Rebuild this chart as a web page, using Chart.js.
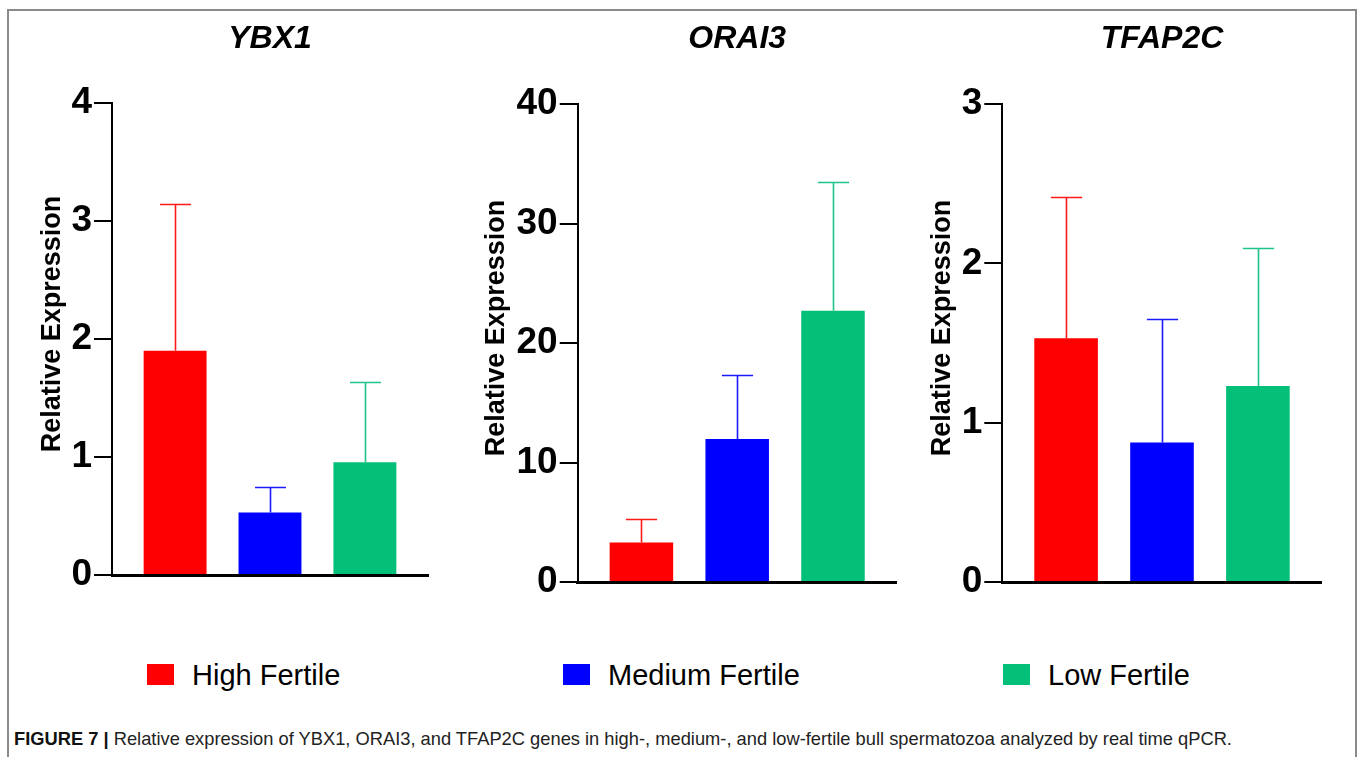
<!DOCTYPE html>
<html>
<head>
<meta charset="utf-8">
<script src="https://cdn.jsdelivr.net/npm/chart.js@4"></script>
<style>
html,body{margin:0;padding:0;background:#fff;width:1358px;height:757px;overflow:hidden;font-family:"Liberation Sans",Arial,Helvetica,sans-serif;}
#frame{position:absolute;left:7px;top:9px;width:1350px;height:800px;border:2px solid #8a8a8a;border-bottom:none;box-sizing:border-box;}
.panel{position:absolute;top:0;}
.sw{position:absolute;top:664px;width:27px;height:21px;}
.lt{position:absolute;top:661px;font-size:29px;line-height:29px;color:#000;white-space:nowrap;}
#caption{position:absolute;left:14px;top:729px;font-size:19px;line-height:19px;color:#222;white-space:nowrap;transform-origin:0 50%;}
#caption b{color:#111;}
</style>
</head>
<body>
<div id="frame"></div>
<canvas id="c1" class="panel" style="left:0px" width="450" height="620"></canvas>
<canvas id="c2" class="panel" style="left:450px" width="460" height="620"></canvas>
<canvas id="c3" class="panel" style="left:910px" width="440" height="620"></canvas>
<div id="legend"></div>
<div id="caption"><b>FIGURE 7 |</b> Relative expression of YBX1, ORAI3, and TFAP2C genes in high-, medium-, and low-fertile bull spermatozoa analyzed by real time qPCR.</div>
<script>
// ---- data ----
const groups = ['High Fertile', 'Medium Fertile', 'Low Fertile'];
const groupColors = ['#FF0000', '#0000FF', '#04BF78'];
const errColors = ['#FF1A1A', '#1A1AFF', '#1DC487'];
const genes = ['YBX1', 'ORAI3', 'TFAP2C'];

const ybx1Mean = [1.90, 0.53, 0.955];
const ybx1Err  = [1.24, 0.215, 0.68];
const orai3Mean = [3.31, 11.96, 22.7];
const orai3Err  = [1.93, 5.39, 10.79];
const tfap2cMean = [1.53, 0.875, 1.23];
const tfap2cErr  = [0.885, 0.773, 0.866];

const yMaxes = [4, 40, 3];
const ySteps = [1, 10, 1];
const yTitle = 'Relative Expression';

// ---- setup ----
Chart.defaults.font.family = '"Liberation Sans", Arial, Helvetica, sans-serif';
Chart.defaults.color = '#000';

const errorBars = {
  id: 'errorBars',
  afterDatasetsDraw(chart) {
    const {ctx, scales: {x, y}} = chart;
    const ds = chart.data.datasets[0];
    const half = x.getPixelForValue(0.163) - x.getPixelForValue(0);
    ds.data.forEach((d, i) => {
      const px = Math.round(x.getPixelForValue(d.x)) + 0.5;
      const base = y.getPixelForValue(d.y);
      const top = Math.round(y.getPixelForValue(d.y + ds.errors[i])) + 0.5;
      ctx.save();
      ctx.strokeStyle = ds.errColors[i];
      ctx.lineWidth = 1.6;
      ctx.beginPath();
      ctx.moveTo(px, base);
      ctx.lineTo(px, top);
      ctx.moveTo(px - half, top);
      ctx.lineTo(px + half, top);
      ctx.stroke();
      ctx.restore();
    });
  }
};

const layoutCfg = [
  {yW: 112, padRight: 22, xH: 45, titleBottom: 45.6, yTitlePad: 36.5},
  {yW: 127.7, padRight: 13.3, xH: 38, titleBottom: 46.6, yTitlePad: 30.5},
  {yW: 92.3, padRight: 28.3, xH: 38, titleBottom: 46.6, yTitlePad: 16.5}
];

function makeChart(canvasId, idx, means, errs) {
  const cfg = layoutCfg[idx];
  return new Chart(document.getElementById(canvasId), {
    type: 'bar',
    data: {
      datasets: [{
        data: means.map((v, i) => ({x: i, y: v})),
        backgroundColor: groupColors,
        borderWidth: 0,
        categoryPercentage: 1,
        barPercentage: 0.663,
        errors: errs,
        errColors: errColors
      }]
    },
    options: {
      responsive: false,
      animation: false,
      devicePixelRatio: 1,
      layout: {padding: {left: 0, right: cfg.padRight, top: 0, bottom: 0}},
      plugins: {
        legend: {display: false},
        tooltip: {enabled: false},
        title: {
          display: true, text: genes[idx], fullSize: false, color: '#000',
          font: {size: 32, weight: 'bold', style: 'italic'},
          padding: {top: 20, bottom: cfg.titleBottom - 1}
        }
      },
      scales: {
        x: {
          type: 'linear', min: -0.665, max: 2.665, offset: false,
          grid: {display: false, drawTicks: false, offset: false},
          ticks: {display: false, stepSize: 1, includeBounds: false},
          border: {display: true, color: '#000', width: 3},
          afterFit: s => { s.height = cfg.xH; }
        },
        y: {
          min: 0, max: yMaxes[idx],
          ticks: {stepSize: ySteps[idx], color: '#000', padding: 2, font: {size: 37, weight: 'bold'}},
          grid: {drawOnChartArea: false, drawTicks: true, tickLength: 18, color: '#000', lineWidth: 2},
          border: {display: true, color: '#000', width: 2},
          title: {
            display: true, text: '    ' + yTitle, color: '#000',
            font: {size: 27, weight: 'bold'},
            padding: {top: cfg.yTitlePad, bottom: 0}
          },
          afterFit: s => { s.width = cfg.yW; }
        }
      }
    },
    plugins: [errorBars]
  });
}

makeChart('c1', 0, ybx1Mean, ybx1Err);
makeChart('c2', 1, orai3Mean, orai3Err);
makeChart('c3', 2, tfap2cMean, tfap2cErr);

// ---- legend (HTML) ----
const legendPos = [[147, 192], [563, 608], [1003, 1048]];
const legend = document.getElementById('legend');
groups.forEach((g, i) => {
  const sw = document.createElement('div');
  sw.className = 'sw';
  sw.style.left = legendPos[i][0] + 'px';
  sw.style.background = groupColors[i];
  legend.appendChild(sw);
  const t = document.createElement('div');
  t.className = 'lt';
  t.style.left = legendPos[i][1] + 'px';
  t.textContent = g;
  legend.appendChild(t);
});

// ---- caption fit (condensed face) ----
const cap = document.getElementById('caption');
const w = cap.getBoundingClientRect().width;
cap.style.transform = 'scaleX(' + (1218 / w).toFixed(4) + ')';
</script>
</body>
</html>
